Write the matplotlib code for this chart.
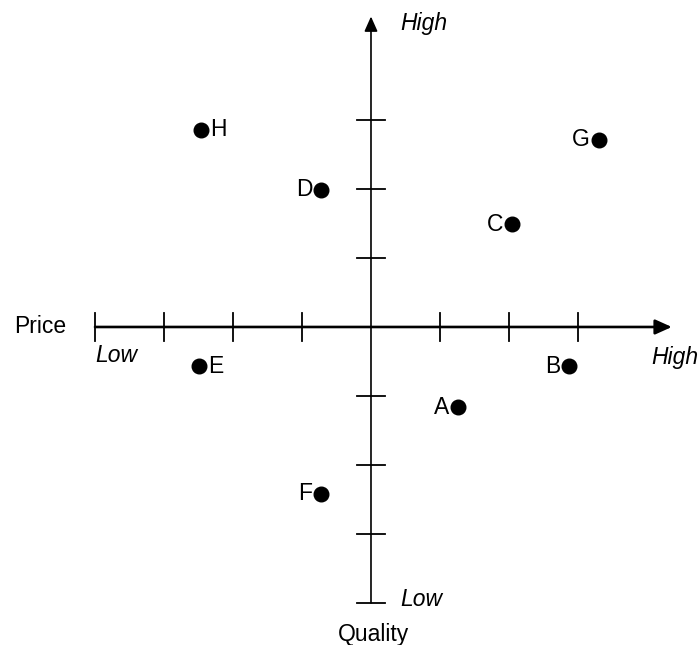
import matplotlib.pyplot as plt

plt.rcParams['font.family'] = ['Liberation Sans', 'DejaVu Sans']

# brands on the price / quality map
brands = ['A', 'B', 'C', 'D', 'E', 'F', 'G', 'H']
price = [1.26, 2.87, 2.04, -0.72, -2.49, -0.72, 3.30, -2.46]
quality = [-1.16, -0.57, 1.49, 1.99, -0.57, -2.42, 2.71, 2.86]
label_side = ['left', 'left', 'left', 'left', 'right', 'left', 'left', 'right']

x_ticks = [-3, -2, -1, 1, 2, 3]
y_ticks = [-3, -2, -1, 1, 2, 3]
axis_min = -4

fig = plt.figure(figsize=(6.99, 6.45), dpi=100)
ax = fig.add_axes([0, 0, 1, 1])
ax.set_xlim(-5.377, 4.754)
ax.set_ylim(-4.609, 4.739)
ax.axis('off')

fs = 16.5
# price axis with arrow
ax.annotate('', xy=(4.36, 0), xytext=(axis_min, 0),
            arrowprops=dict(arrowstyle='-|>,head_length=1.0,head_width=0.45',
                            color='black', lw=1.9, shrinkA=0, shrinkB=0))
# quality axis with arrow
ax.annotate('', xy=(0, 4.5), xytext=(0, axis_min),
            arrowprops=dict(arrowstyle='-|>,head_length=0.9,head_width=0.4',
                            color='black', lw=1.2, shrinkA=0, shrinkB=0))

t = 0.2
for xt in x_ticks + [axis_min]:
    ax.plot([xt, xt], [-t, t], color='black', lw=1.3)
for yt in y_ticks + [axis_min]:
    ax.plot([-t, t], [yt, yt], color='black', lw=1.3)

ax.plot(price, quality, 'o', color='black', markersize=10.5)
for b, px, qy, side in zip(brands, price, quality, label_side):
    if side == 'left':
        ax.text(px - 0.13, qy, b, ha='right', va='center', fontsize=fs)
    else:
        ax.text(px + 0.13, qy, b, ha='left', va='center', fontsize=fs)

ax.text(-4.42, 0, 'Price', ha='right', va='center', fontsize=fs)
ax.text(-4.0, -0.42, 'Low', ha='left', va='center', fontsize=fs, style='italic')
ax.text(4.40, -0.44, 'High', ha='center', va='center', fontsize=fs, style='italic')
ax.text(0.42, 4.40, 'High', ha='left', va='center', fontsize=fs, style='italic')
ax.text(0.42, -3.95, 'Low', ha='left', va='center', fontsize=fs, style='italic')
ax.text(0.04, -4.45, 'Quality', ha='center', va='center', fontsize=fs)

fig.savefig('out.png', dpi=100)
